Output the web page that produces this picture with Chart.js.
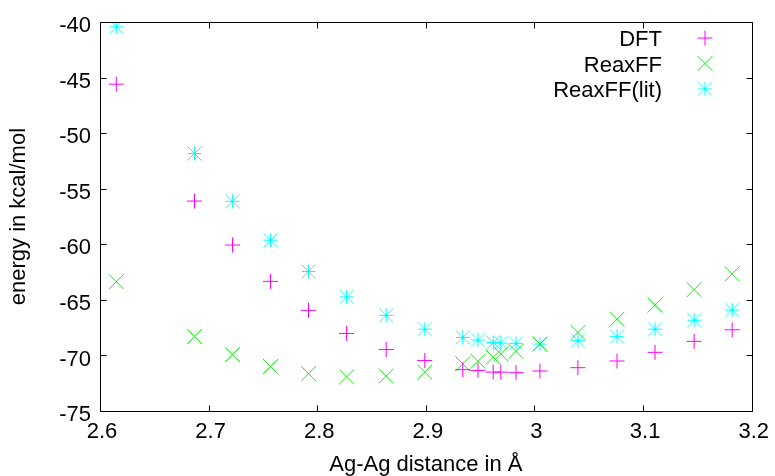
<!DOCTYPE html>
<html>
<head>
<meta charset="utf-8">
<script src="https://cdn.jsdelivr.net/npm/chart.js@4.4.1/dist/chart.umd.min.js"></script>
<style>
  html, body { margin: 0; padding: 0; background: #fff; }
  #wrap { width: 775px; height: 476px; position: relative; }
</style>
</head>
<body>
<div id="wrap"><canvas id="c" width="775" height="476"></canvas></div>
<script>
// ---- data ----
const distances = [2.615, 2.687, 2.722, 2.757, 2.792, 2.827, 2.8635, 2.899, 2.934, 2.948, 2.962, 2.969, 2.983, 3.005, 3.040, 3.076, 3.111, 3.147, 3.182];
const dftEnergy = [-45.58, -56.1, -60.06, -63.33, -65.94, -68.02, -69.47, -70.45, -71.28, -71.35, -71.5, -71.5, -71.55, -71.4, -71.1, -70.5, -69.72, -68.73, -67.69];
const reaxffEnergy = [-63.36, -68.29, -69.92, -70.99, -71.64, -71.93, -71.85, -71.5, -70.75, -70.52, -70.16, -69.86, -69.63, -68.97, -67.93, -66.74, -65.47, -64.07, -62.65];
const reaxffLitEnergy = [-40.42, -51.82, -56.12, -59.62, -62.44, -64.73, -66.39, -67.63, -68.38, -68.61, -68.83, -68.88, -68.91, -68.97, -68.67, -68.3, -67.63, -66.83, -65.91];
const seriesNames = ['DFT', 'ReaxFF', 'ReaxFF(lit)'];
const xTickLabels = ['2.6', '2.7', '2.8', '2.9', '3', '3.1', '3.2'];
const yTickLabels = ['-75', '-70', '-65', '-60', '-55', '-50', '-45', '-40'];
const xTitle = 'Ag-Ag distance in Å';
const yTitle = 'energy in kcal/mol';

// ---- styles ----
const FONT = '"Liberation Sans", Arial, Helvetica, sans-serif';
const FS = 22;
const colMagenta = '#ff00ff';
const colGreen = '#11ee11';
const colCyan = '#00ffff';

function starCanvas(color) {
  const s = 17, c = document.createElement('canvas');
  c.width = s; c.height = s;
  const g = c.getContext('2d');
  g.strokeStyle = color; g.lineWidth = 1;
  const m = 8.5, r = 7;
  g.beginPath();
  g.moveTo(m - r, m); g.lineTo(m + r, m);
  g.moveTo(m, m - r); g.lineTo(m, m + r);
  g.moveTo(m - r, m - r); g.lineTo(m + r, m + r);
  g.moveTo(m - r, m + r); g.lineTo(m + r, m - r);
  g.stroke();
  return c;
}
const starImg = starCanvas(colCyan);

function pts(ys) { return distances.map((x, i) => ({ x: x, y: ys[i] })); }

const datasets = [
  { label: seriesNames[0], data: pts(dftEnergy), pointStyle: 'cross', pointRadius: 7.5, borderColor: colMagenta, backgroundColor: colMagenta, pointBorderWidth: 1, showLine: false },
  { label: seriesNames[1], data: pts(reaxffEnergy), pointStyle: 'crossRot', pointRadius: 10.5, borderColor: colGreen, backgroundColor: colGreen, pointBorderWidth: 1, showLine: false },
  { label: seriesNames[2], data: pts(reaxffLitEnergy), pointStyle: starImg, pointRadius: 8, borderColor: colCyan, backgroundColor: colCyan, pointBorderWidth: 1, showLine: false }
];

// frame + inward ticks on all four sides
const framePlugin = {
  id: 'frame',
  afterDatasetsDraw(chart) {
    const { ctx, chartArea: a, scales } = chart;
    const xs = scales.x, ys = scales.y;
    ctx.save();
    ctx.strokeStyle = '#000';
    ctx.lineWidth = 1;
    const L = Math.round(a.left) + 0.5, R = Math.round(a.right) + 0.5;
    const T = Math.round(a.top) + 0.5, B = Math.round(a.bottom) + 0.5;
    ctx.beginPath();
    ctx.rect(L, T, R - L, B - T);
    const tl = 6;
    xs.ticks.forEach(t => {
      const px = Math.round(xs.getPixelForValue(t.value)) + 0.5;
      ctx.moveTo(px, B); ctx.lineTo(px, B - tl);
      ctx.moveTo(px, T); ctx.lineTo(px, T + tl);
    });
    ys.ticks.forEach(t => {
      const py = Math.round(ys.getPixelForValue(t.value)) + 0.5;
      ctx.moveTo(L, py); ctx.lineTo(L + tl, py);
      ctx.moveTo(R, py); ctx.lineTo(R - tl, py);
    });
    ctx.stroke();
    ctx.restore();
  }
};

// gnuplot-style key: right-aligned text, marker to the right
const keyPlugin = {
  id: 'gkey',
  afterDraw(chart) {
    const { ctx } = chart;
    ctx.save();
    ctx.font = FS + 'px ' + FONT;
    ctx.textAlign = 'right';
    ctx.textBaseline = 'middle';
    ctx.fillStyle = '#000';
    const textX = 662, markX = 705, y0 = 40, dy = 25.5;
    chart.data.datasets.forEach((ds, i) => {
      const y = y0 + i * dy;
      ctx.fillText(ds.label, textX, y);
      ctx.strokeStyle = ds.borderColor;
      ctx.fillStyle = ds.backgroundColor;
      ctx.lineWidth = 1;
      Chart.helpers.drawPoint(ctx, { pointStyle: ds.pointStyle, radius: ds.pointRadius, borderWidth: 1, rotation: 0 }, markX, y - 2);
      ctx.fillStyle = '#000';
    });
    ctx.restore();
  }
};

new Chart(document.getElementById('c'), {
  type: 'scatter',
  data: { datasets: datasets },
  options: {
    responsive: false,
    animation: false,
    devicePixelRatio: 1,
    layout: { padding: { left: 0, top: 18, right: 20, bottom: 0 } },
    plugins: { legend: { display: false }, tooltip: { enabled: false } },
    scales: {
      x: {
        type: 'linear', min: 2.6, max: 3.2,
        grid: { display: false, drawTicks: false },
        border: { display: false },
        ticks: {
          stepSize: 0.1, padding: 8, labelOffset: 2, color: '#000', maxRotation: 0,
          font: { family: FONT, size: FS },
          callback: (v, i) => xTickLabels[i]
        },
        title: { display: true, text: xTitle, color: '#000', font: { family: FONT, size: FS, lineHeight: 1 }, padding: { top: 0, bottom: 0 } },
        afterFit: s => { s.height = 65; }
      },
      y: {
        type: 'linear', min: -75, max: -40,
        grid: { display: false, drawTicks: false },
        border: { display: false },
        ticks: {
          stepSize: 5, padding: 9, labelOffset: 4, color: '#000',
          font: { family: FONT, size: FS },
          callback: (v, i) => yTickLabels[i]
        },
        title: { display: true, text: yTitle, color: '#000', font: { family: FONT, size: FS, lineHeight: 1 }, padding: { top: 8, bottom: 0 } },
        afterFit: s => { s.width = 100; }
      }
    }
  },
  plugins: [framePlugin, keyPlugin]
});
</script>
</body>
</html>
